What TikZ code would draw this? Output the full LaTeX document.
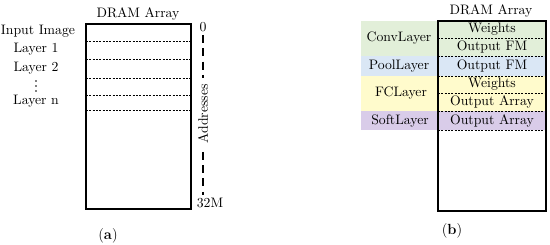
\documentclass[tikz,border=0pt]{standalone}
\usetikzlibrary{positioning,calc}
\definecolor{MemConv}{RGB}{226,239,217}
\definecolor{MemPool}{RGB}{218,231,245}
\definecolor{MemFC}{RGB}{255,251,204}
\definecolor{MemSoft}{RGB}{217,204,233}
\tikzset{
  mem label/.style={font=\fontsize{10.3}{11}\selectfont, inner sep=0pt},
  mem frame/.style={draw=black, line width=1pt},
  mem split/.style={draw=black, line width=0.6pt, dash pattern=on 1.6pt off 0.9pt},
  mem axis/.style={draw=black, line width=1pt, dash pattern=on 6pt off 4pt},
  mem caption/.style={font=\fontsize{11}{12}\selectfont, inner sep=0pt}
}

\begin{document}
\begin{tikzpicture}[x=0.75pt,y=-0.75pt]
\useasboundingbox (0,0) rectangle (550,245);
% (a) plain memory map
\node[mem label] (titleA) at (138,14) {DRAM Array};
\draw[mem frame] (86,24) rectangle (191,209);
\foreach \yy in {41.5,59,78,95,110}
  \draw[mem split] (86,\yy) -- (191,\yy);
\node[mem label] (input) at (38,31) {Input Image};
\node[mem label] (layer1) at (36,49) {Layer 1};
\node[mem label] (layer2) at (36,68) {Layer 2};
\foreach \yy in {81,86,91}
  \fill (36,\yy) circle (0.6pt);
\node[mem label] (layern) at (36,101) {Layer n};
\node[mem label] (zero) at (203,27) {0};
\node[mem label] (full) at (210,203) {32M};
\node[mem label, rotate=90] (addr) at (203,114) {Addresses};
\coordinate (axisend) at (203,195);
\draw[mem axis] ($(zero.south)+(0,3)$) -- ($(addr.east)+(0,-6)$);
\draw[mem axis] ($(addr.west)+(0,8)$) -- (axisend);
\node[mem caption] (capA) at (108,236) {(\textbf{a})};
% (b) memory map per layer
\fill[MemConv] (361,21) rectangle (546,56);
\fill[MemPool] (361,56) rectangle (546,76);
\fill[MemFC] (361,76) rectangle (546,111);
\fill[MemSoft] (361,111) rectangle (546,130);
\node[mem label] (titleB) at (491,11) {DRAM Array};
\foreach \yy in {38,56,76,93,111,130}
  \draw[mem split] (438,\yy) -- (546,\yy);
\draw[mem frame] (438,21) rectangle (546,211);
\node[mem label] (conv) at (399,38) {ConvLayer};
\node[mem label] (pool) at (399,66) {PoolLayer};
\node[mem label] (fc) at (401,93) {FCLayer};
\node[mem label] (soft) at (400,121) {SoftLayer};
\node[mem label] (convW) at (492,29.5) {Weights};
\node[mem label] (convO) at (492,47) {Output FM};
\node[mem label] (poolO) at (492,66) {Output FM};
\node[mem label] (fcW) at (492,84.5) {Weights};
\node[mem label] (fcO) at (492,102) {Output Array};
\node[mem label] (softO) at (492,120.5) {Output Array};
\node[mem caption] (capB) at (452,231) {(\textbf{b})};
\end{tikzpicture}
\end{document}
